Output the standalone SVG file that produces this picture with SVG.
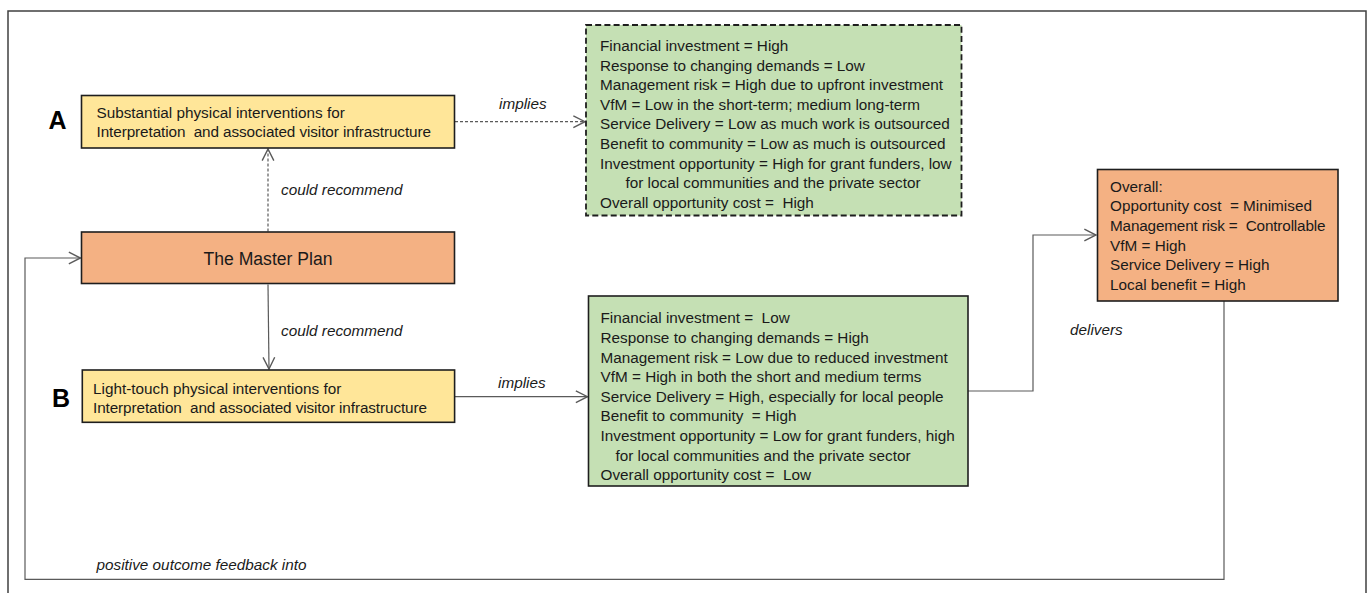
<svg xmlns="http://www.w3.org/2000/svg" width="1370" height="593" viewBox="0 0 1370 593">
  <style>
    text { font-family: "Liberation Sans", Arial, sans-serif; fill: #1a1a1a; white-space: pre; }
    .body { font-size: 15.3px; }
    .lbl { font-size: 15.3px; font-style: italic; }
    .big { font-size: 25px; font-weight: bold; fill: #000; }
    .title { font-size: 17.6px; }
    .box { stroke: #1e1e1e; stroke-width: 1.6; }
    .yellow { fill: #FFE699; }
    .orange { fill: #F4B183; }
    .green { fill: #C5E0B4; }
    .dashbox { stroke-dasharray: 6 3.2; stroke-width: 1.8; }
    .conn { fill: none; stroke: #5a5a5a; stroke-width: 1.2; }
    .dotted { stroke-dasharray: 3 2; }
  </style>
  <defs>
    <marker id="open-arrow" markerUnits="userSpaceOnUse" markerWidth="14" markerHeight="14" viewBox="0 0 12 12" refX="11" refY="6" orient="auto">
      <path d="M1,1 L11,6 L1,11" fill="none" stroke="#5a5a5a" stroke-width="1.2"/>
    </marker>
  </defs>

  <!-- page frame -->
  <path d="M8,600 V11 H1366 V600" fill="none" stroke="#404040" stroke-width="1.5"/>

  <!-- connectors -->
  <g id="connectors">
    <line class="conn dotted" x1="455" y1="121.7" x2="585" y2="121.7" marker-end="url(#open-arrow)"/>
    <line class="conn dotted" x1="268" y1="231.5" x2="268" y2="149" marker-end="url(#open-arrow)"/>
    <line class="conn" x1="268" y1="284.5" x2="269" y2="369" marker-end="url(#open-arrow)"/>
    <line class="conn" x1="455" y1="396.7" x2="587.5" y2="396.7" marker-end="url(#open-arrow)"/>
    <polyline class="conn" points="968,391 1033,391 1033,235 1096,235" marker-end="url(#open-arrow)"/>
    <polyline class="conn" points="1224,301 1224,579.3 25,579.3 25,258 80.5,258" marker-end="url(#open-arrow)"/>
    <text class="lbl" x="499" y="108.5">implies</text>
    <text class="lbl" x="281" y="195">could recommend</text>
    <text class="lbl" x="281" y="335.5">could recommend</text>
    <text class="lbl" x="498" y="388">implies</text>
    <text class="lbl" x="1070" y="335">delivers</text>
    <text class="lbl" x="96.5" y="570">positive outcome feedback into</text>
  </g>

  <!-- option A -->
  <g id="option-a">
    <text class="big" x="57.5" y="129" text-anchor="middle">A</text>
    <rect class="box yellow" x="81.5" y="95.5" width="373" height="52.5"/>
    <text class="body" x="96.5" y="117.5">Substantial physical interventions for</text>
    <text class="body" x="96.5" y="136.8" textLength="334.5" lengthAdjust="spacing">Interpretation  and associated visitor infrastructure</text>
  </g>

  <!-- master plan -->
  <g id="master-plan">
    <rect class="box orange" x="81.5" y="232" width="373" height="51.5"/>
    <text class="title" x="268" y="264.5" text-anchor="middle">The Master Plan</text>
  </g>

  <!-- option B -->
  <g id="option-b">
    <text class="big" x="61" y="407" text-anchor="middle">B</text>
    <rect class="box yellow" x="82.3" y="370" width="372.3" height="52.3"/>
    <text class="body" x="93" y="393.5">Light-touch physical interventions for</text>
    <text class="body" x="93" y="413" textLength="334" lengthAdjust="spacing">Interpretation  and associated visitor infrastructure</text>
  </g>

  <!-- implications of option A -->
  <g id="implications-a">
    <rect class="box green dashbox" x="586" y="25" width="375.5" height="190.5"/>
    <text class="body" x="600" y="51">Financial investment = High</text>
    <text class="body" x="600" y="70.6">Response to changing demands = Low</text>
    <text class="body" x="600" y="90.2">Management risk = High due to upfront investment</text>
    <text class="body" x="600" y="109.8">VfM = Low in the short-term; medium long-term</text>
    <text class="body" x="600" y="129.4">Service Delivery = Low as much work is outsourced</text>
    <text class="body" x="600" y="149">Benefit to community = Low as much is outsourced</text>
    <text class="body" x="600" y="168.6">Investment opportunity = High for grant funders, low</text>
    <text class="body" x="625.5" y="188.2">for local communities and the private sector</text>
    <text class="body" x="600" y="207.8">Overall opportunity cost =  High</text>
  </g>

  <!-- implications of option B -->
  <g id="implications-b">
    <rect class="box green" x="588.5" y="296" width="379.5" height="190"/>
    <text class="body" x="600.5" y="323.3">Financial investment =  Low</text>
    <text class="body" x="600.5" y="342.9">Response to changing demands = High</text>
    <text class="body" x="600.5" y="362.5">Management risk = Low due to reduced investment</text>
    <text class="body" x="600.5" y="382.1">VfM = High in both the short and medium terms</text>
    <text class="body" x="600.5" y="401.7">Service Delivery = High, especially for local people</text>
    <text class="body" x="600.5" y="421.3">Benefit to community  = High</text>
    <text class="body" x="600.5" y="440.9">Investment opportunity = Low for grant funders, high</text>
    <text class="body" x="615.5" y="460.5">for local communities and the private sector</text>
    <text class="body" x="600.5" y="480.1">Overall opportunity cost =  Low</text>
  </g>

  <!-- overall outcome -->
  <g id="outcome">
    <rect class="box orange" x="1097.5" y="169.5" width="240.5" height="131.5"/>
    <text class="body" x="1110" y="191.7">Overall:</text>
    <text class="body" x="1110" y="211.3">Opportunity cost  = Minimised</text>
    <text class="body" x="1110" y="230.9" textLength="215.5" lengthAdjust="spacing">Management risk =  Controllable</text>
    <text class="body" x="1110" y="250.5">VfM = High</text>
    <text class="body" x="1110" y="270.1">Service Delivery = High</text>
    <text class="body" x="1110" y="289.7">Local benefit = High</text>
  </g>
</svg>
